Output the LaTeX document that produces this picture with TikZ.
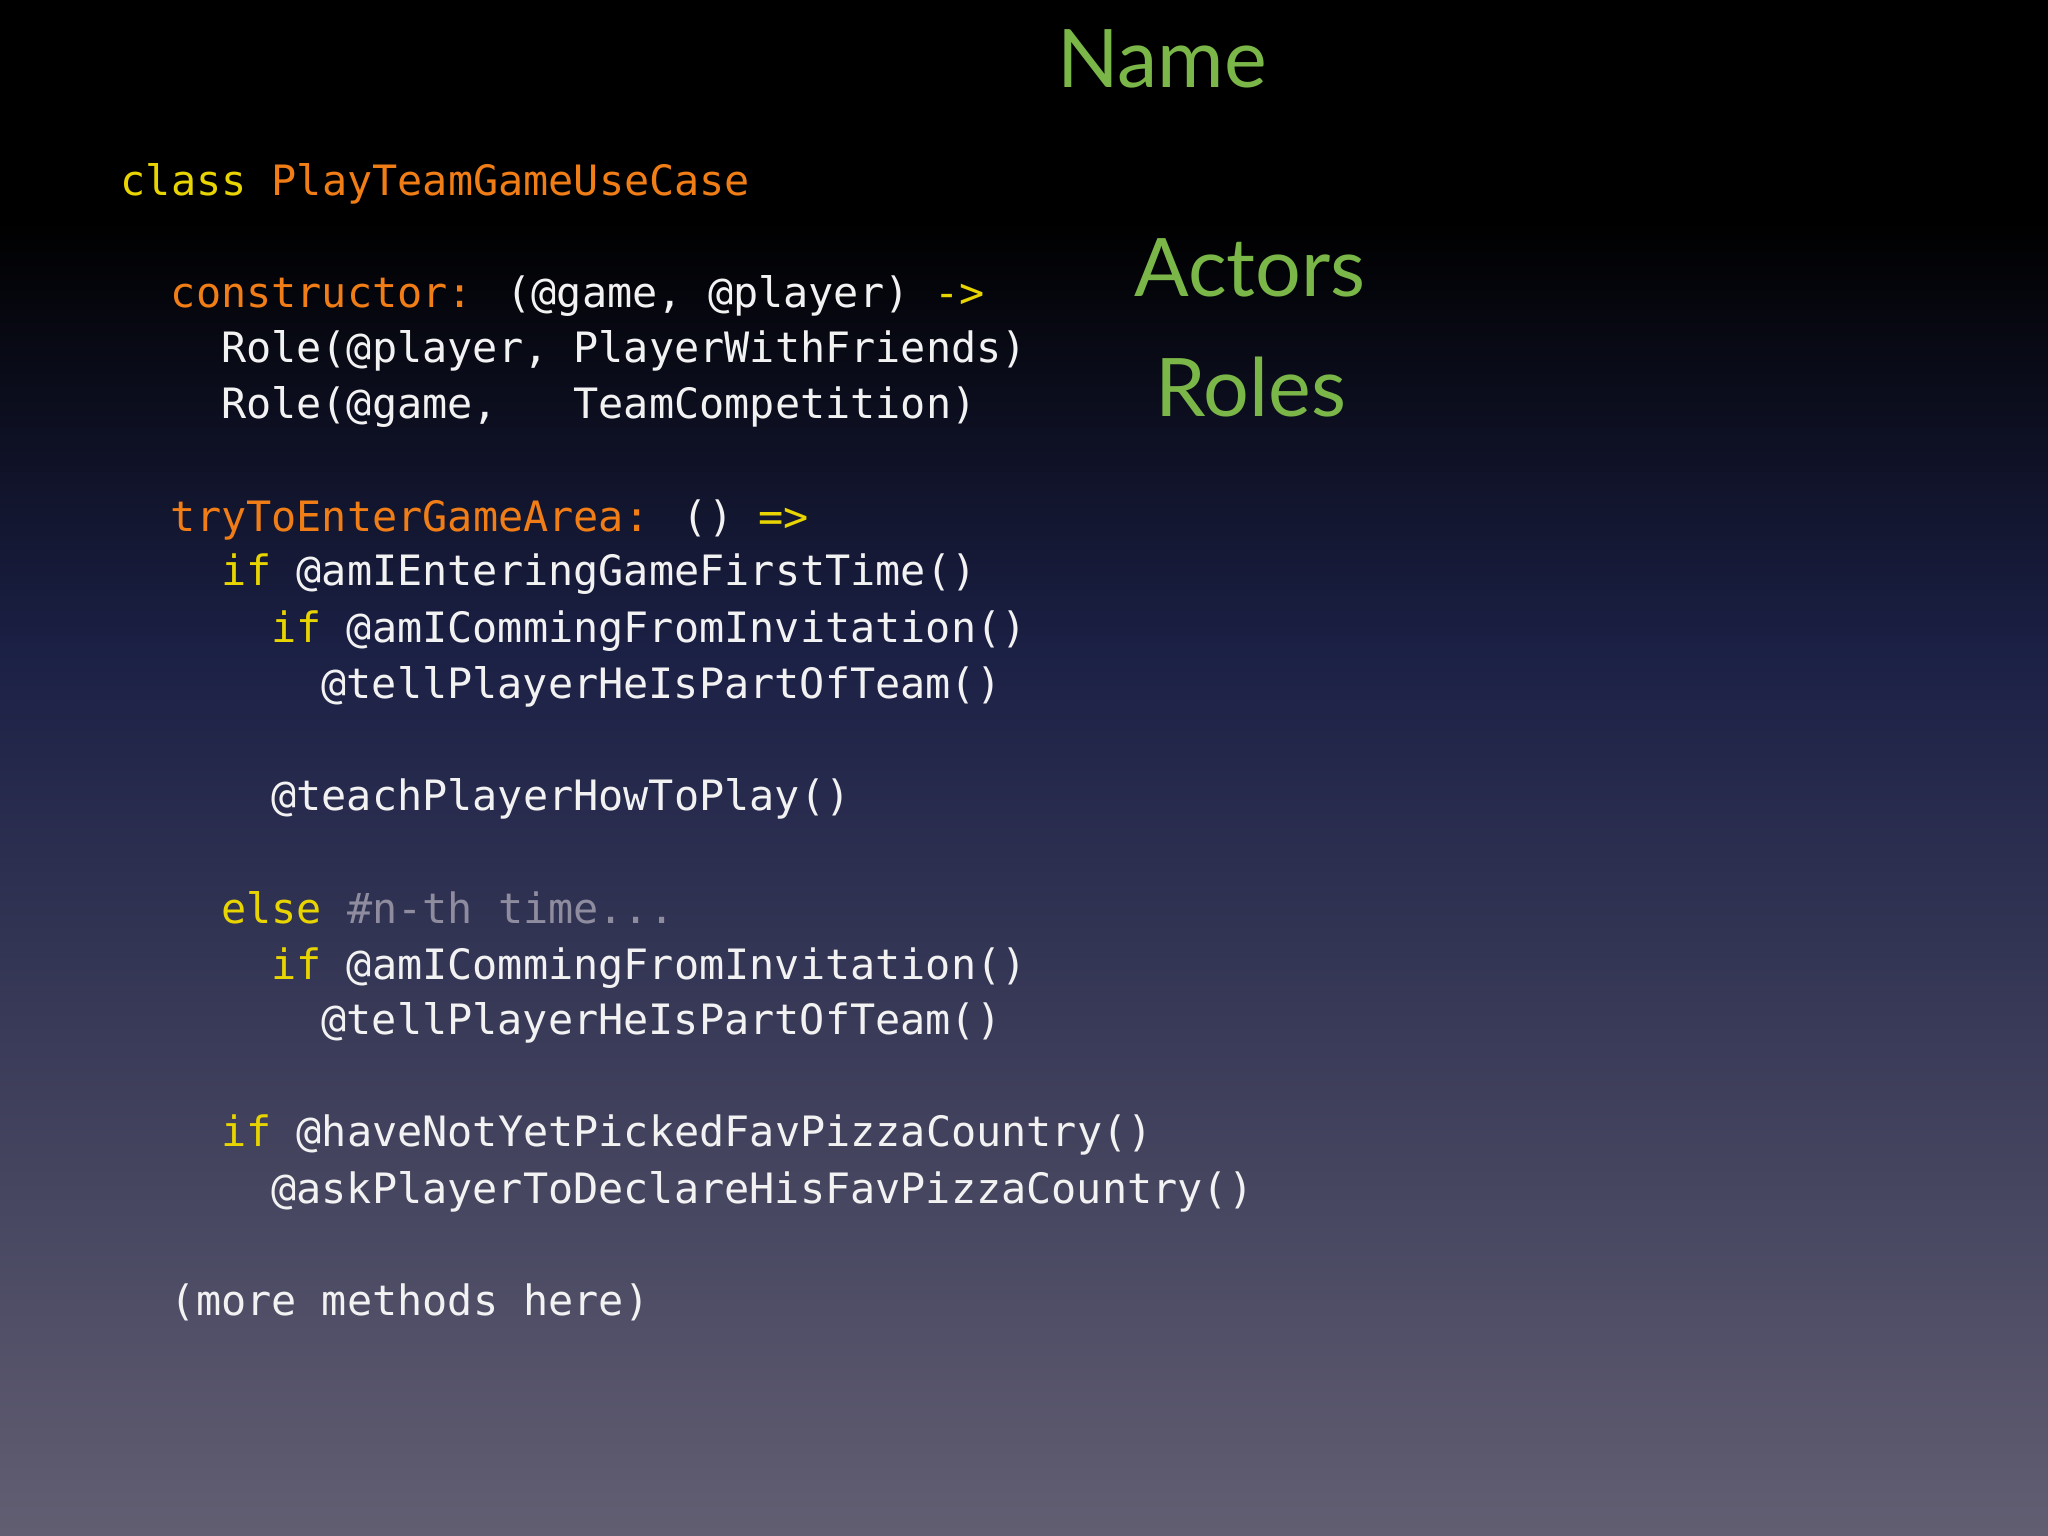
\documentclass[tikz,border=0pt]{standalone}
\usepackage{fontspec}
\setmainfont{Lato}
\newfontfamily\codefont{DejaVu Sans Mono}[Scale=1]
\definecolor{kw}{HTML}{E8D400}
\definecolor{nm}{HTML}{F07D16}
\definecolor{tx}{HTML}{F2F2F2}
\definecolor{cm}{HTML}{8E8C9E}
\definecolor{tg}{HTML}{7AB648}
\definecolor{bgtop}{HTML}{000000}
\definecolor{bgmid}{HTML}{1B2045}
\definecolor{bgbot}{HTML}{625E72}
\tikzset{code/.style={anchor=base west,inner sep=0pt,text=tx,font=\codefont\fontsize{11.9pt}{14pt}\selectfont},
title/.style={anchor=base,inner sep=0pt,text=tg,font=\fontsize{23pt}{28pt}\selectfont}}
\newcommand{\codeline}[4]{\node[code] (#1) at ({1.20+#2*0.251},{-#3/100}) {#4};}
\begin{document}
\begin{tikzpicture}
\useasboundingbox (0,0) rectangle (20.48,-15.36);
\fill[bgtop] (0,0) rectangle (20.48,-2.2);
\fill[top color=bgtop,bottom color=bgmid] (0,-2.19) rectangle (20.48,-6.5);
\fill[top color=bgmid,bottom color=bgbot] (0,-6.5) rectangle (20.48,-15.36);
\codeline{l1}{0}{196}{\textcolor{kw}{class} \textcolor{nm}{PlayTeamGameUseCase}}
\codeline{l2}{2}{308}{\textcolor{nm}{constructor:} (@game, @player) \textcolor{kw}{->}}
\codeline{l3}{4}{363}{Role(@player, PlayerWithFriends)}
\codeline{l4}{4}{419}{Role(@game,\ \ \ TeamCompetition)}
\codeline{l5}{2}{532}{\textcolor{nm}{tryToEnterGameArea:} () \textcolor{kw}{=>}}
\codeline{l6}{4}{586}{\textcolor{kw}{if} @amIEnteringGameFirstTime()}
\codeline{l7}{6}{643}{\textcolor{kw}{if} @amICommingFromInvitation()}
\codeline{l8}{8}{699}{@tellPlayerHeIsPartOfTeam()}
\codeline{l9}{6}{811}{@teachPlayerHowToPlay()}
\codeline{l10}{4}{923}{\textcolor{kw}{else} \textcolor{cm}{\#n-th time...}}
\codeline{l11}{6}{980}{\textcolor{kw}{if} @amICommingFromInvitation()}
\codeline{l12}{8}{1034}{@tellPlayerHeIsPartOfTeam()}
\codeline{l13}{4}{1147}{\textcolor{kw}{if} @haveNotYetPickedFavPizzaCountry()}
\codeline{l14}{6}{1203}{@askPlayerToDeclareHisFavPizzaCountry()}
\codeline{l15}{2}{1315}{(more methods here)}
\node[title] (name) at (11.62,-0.88) {Name};
\node[title] (actors) at (12.50,-2.97) {Actors};
\node[title] (roles) at (12.51,-4.17) {Roles};
\end{tikzpicture}
\end{document}
